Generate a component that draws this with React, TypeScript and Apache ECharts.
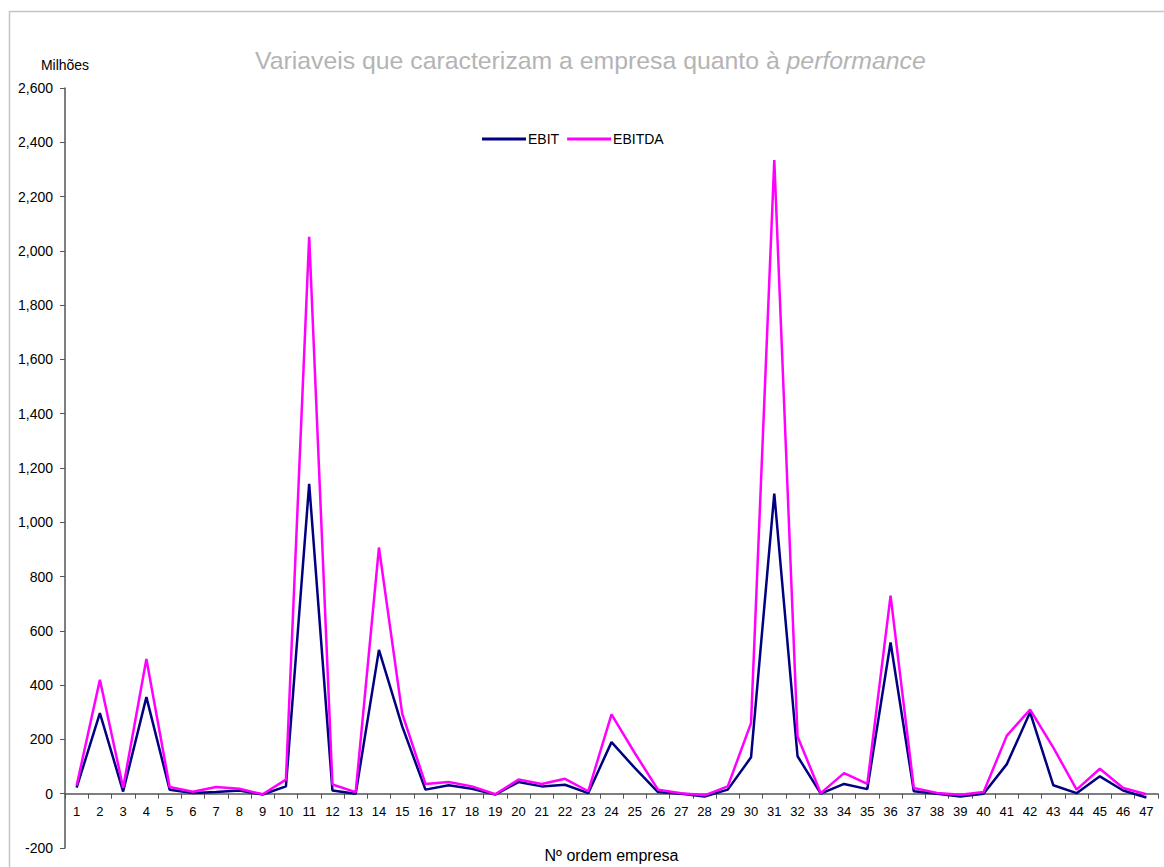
import React, { useEffect, useRef } from "react";
import * as echarts from "echarts";

// Company order numbers 1..47
const empresas: string[] = [
  "1", "2", "3", "4", "5", "6", "7", "8", "9", "10",
  "11", "12", "13", "14", "15", "16", "17", "18", "19", "20",
  "21", "22", "23", "24", "25", "26", "27", "28", "29", "30",
  "31", "32", "33", "34", "35", "36", "37", "38", "39", "40",
  "41", "42", "43", "44", "45", "46", "47",
];

// Values in millions
const ebit: number[] = [
  22, 297, 8, 356, 15, 3, 6, 12, -3, 27,
  1142, 12, 0, 530, 248, 15, 31, 18, -3, 43,
  27, 33, 2, 190, 95, 6, 0, -10, 15, 134,
  1106, 138, 0, 36, 17, 557, 9, 0, -10, 0,
  109, 300, 31, 2, 64, 12, -14,
];

const ebitda: number[] = [
  30, 420, 22, 496, 25, 7, 25, 18, -2, 52,
  2052, 34, 6, 907, 295, 36, 43, 27, -2, 52,
  36, 55, 9, 292, 150, 15, 2, -6, 27, 260,
  2335, 211, 2, 76, 36, 730, 21, 3, -4, 6,
  214, 310, 170, 15, 92, 21, -2,
];

const Y_MIN = -200;
const Y_MAX = 2600;

const FONT = "'Liberation Sans', Arial, sans-serif";

const GRID_TOP = 88;
const GRID_BOTTOM = 19;
const CHART_H = 867;

export default function App() {
  const ref = useRef<HTMLDivElement>(null);

  useEffect(() => {
    if (!ref.current) return;
    const chart = echarts.init(ref.current, undefined, { renderer: "svg" });
    // lift the category axis (line, ticks and labels) up to the zero level
    const plotH = CHART_H - GRID_TOP - GRID_BOTTOM;
    const zeroLift = (plotH * (0 - Y_MIN)) / (Y_MAX - Y_MIN);
    chart.setOption({
      animation: false,
      backgroundColor: "#ffffff",
      textStyle: { fontFamily: FONT },
      graphic: [
        {
          type: "rect",
          silent: true,
          shape: { x: 9.5, y: 11.5, width: 1160, height: 880 },
          style: { fill: "none", stroke: "#c4c4c4", lineWidth: 1.5 },
        },
      ],
      title: {
        text: "{a|Variaveis que caracterizam a empresa quanto à }{b|performance}",
        left: 250,
        top: 43,
        textStyle: {
          fontWeight: "normal",
          rich: {
            a: { fontFamily: FONT, fontSize: 24.8, fontWeight: "normal", color: "#b4b4b4" },
            b: { fontFamily: FONT, fontSize: 24.8, fontWeight: "normal", color: "#b4b4b4", fontStyle: "italic" },
          },
        },
      },
      legend: {
        left: 477,
        top: 127,
        itemWidth: 44,
        itemHeight: 3,
        itemGap: 8,
        icon: "rect",
        textStyle: { fontFamily: FONT, fontSize: 14, color: "#000", padding: [0, 0, 0, -3] },
        data: ["EBIT", "EBITDA"],
      },
      grid: { left: 65, right: 6, top: GRID_TOP, bottom: GRID_BOTTOM, containLabel: false, outerBoundsMode: "none" },
      xAxis: {
        type: "category",
        data: empresas,
        boundaryGap: true,
        offset: -zeroLift,
        name: "Nº ordem empresa",
        nameLocation: "middle",
        nameGap: 54,
        nameTextStyle: { fontFamily: FONT, fontSize: 16, color: "#000" },
        axisLine: { onZero: false, lineStyle: { color: "#555", width: 1.5 } },
        axisTick: { show: true, length: 5, alignWithLabel: false, lineStyle: { color: "#555" } },
        axisLabel: { interval: 0, margin: 11, fontFamily: FONT, fontSize: 13, color: "#000" },
        splitLine: { show: false },
      },
      yAxis: {
        type: "value",
        min: Y_MIN,
        max: Y_MAX,
        interval: 200,
        name: "Milhões",
        nameLocation: "end",
        nameGap: 16,
        nameTextStyle: { fontFamily: FONT, fontSize: 14, color: "#000", align: "center" },
        axisLine: { show: true, lineStyle: { color: "#555", width: 1.5 } },
        axisTick: { show: true, length: 5, lineStyle: { color: "#555" } },
        axisLabel: {
          margin: 12,
          fontFamily: FONT,
          fontSize: 14,
          color: "#000",
          formatter: (v: number) => v.toLocaleString("en-US"),
        },
        splitLine: { show: false },
      },
      series: [
        {
          name: "EBIT",
          type: "line",
          data: ebit,
          showSymbol: false,
          symbol: "none",
          color: "#000080",
          lineStyle: { color: "#000080", width: 2.5 },
        },
        {
          name: "EBITDA",
          type: "line",
          data: ebitda,
          showSymbol: false,
          symbol: "none",
          color: "#ff00ff",
          lineStyle: { color: "#ff00ff", width: 2.5 },
        },
      ],
    });
    return () => chart.dispose();
  }, []);

  return (
    <div
      ref={ref}
      style={{ position: "fixed", left: 0, top: 0, width: 1164, height: 867 }}
    />
  );
}
